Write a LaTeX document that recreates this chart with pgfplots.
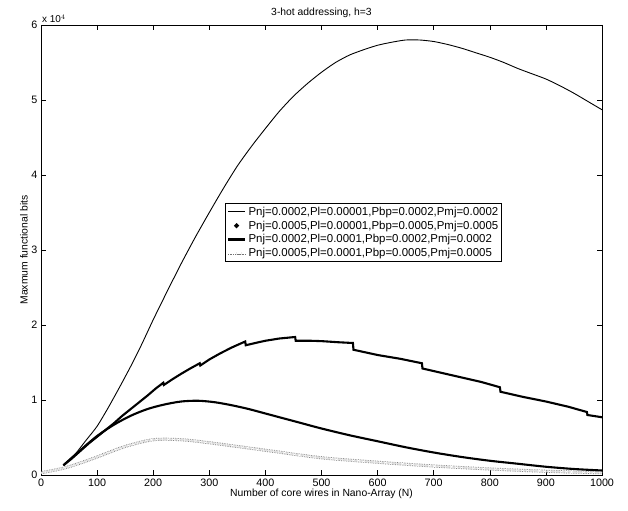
\documentclass[border=0pt]{standalone}
\usepackage{fontspec}
\setmainfont{Liberation Sans}
\usepackage{pgfplots}
\pgfplotsset{compat=1.18}

\begin{document}
\begin{tikzpicture}
\begin{axis}[
  name=ax,
  scale only axis,
  width=561bp, height=450bp,
  xmin=0, xmax=1000, ymin=0, ymax=60000,
  xtick={0,100,...,1000},
  ytick={0,10000,20000,30000,40000,50000,60000},
  yticklabels={0,1,2,3,4,5,6},
  scaled y ticks=false,
  /pgf/number format/assume math mode=true,
  /pgf/number format/1000 sep={},
  tick label style={font=\fontsize{10.8}{13}\selectfont},
  label style={font=\fontsize{10.4}{12}\selectfont},
  title style={font=\fontsize{10.4}{12}\selectfont, yshift=-2pt},
  title={3-hot addressing, h=3},
  xlabel={Number of core wires in Nano-Array (N)},
  ylabel={Maxmum functional bits},
  xlabel style={yshift=4pt},
  ylabel style={yshift=-3pt},
  major tick length=5pt,
  tick style={black, line width=0.5pt},
  axis line style={line width=0.9pt},
  legend style={at={(0.822,0.604)}, anchor=north east, draw=black,
                line width=0.7pt,
                fill=white, font=\fontsize{11.5}{13}\selectfont,
                inner sep=1.5pt, row sep=0pt},
  legend cell align=left,
]
% series 1
\addplot[black, line width=0.9pt, smooth, tension=0.4] coordinates {
  (40,1300) (60,2700) (80,4600) (100,6500) (120,9000) (140,11700)
  (160,14500) (180,17500) (200,20700) (225,24500) (250,28200)
  (275,31700) (300,35000) (325,38200) (350,41200) (375,43800)
  (400,46200) (425,48500) (450,50500) (475,52200) (500,53700)
  (525,55000) (550,56000) (575,56700) (600,57300) (625,57700)
  (650,58000) (675,58000) (700,57800) (725,57400) (750,56900)
  (775,56300) (800,55700) (825,55000) (850,54200) (875,53500)
  (900,52800) (925,51900) (950,50900) (975,49800) (1000,48700)
};
\addlegendentry{Pnj=0.0002,Pl=0.00001,Pbp=0.0002,Pmj=0.0002}
% series 2
\addplot[black, line width=2.1pt,
  legend image code/.code={\fill[black] (0.3cm,0) circle (1.2pt);}] coordinates {
  (40,1300) (55,2200) (70,3200) (85,4200) (100,5100) (115,6000)
  (130,6900) (145,7900) (160,8800) (175,9700) (190,10600) (204,11500)
  (218,12300) (219,12000) (235,12800) (250,13500) (266,14200)
  (283,14900) (284,14600) (300,15400) (319,16200) (340,17000)
  (364,17800) (365,17300) (382,17600) (400,17900) (425,18200)
  (453,18400) (454,17900) (480,17900) (500,17850) (530,17700)
  (556,17600) (557,16700) (600,16000) (640,15500) (679,14900)
  (680,14200) (715,13600) (750,13000) (785,12400) (818,11700)
  (819,11100) (860,10400) (900,9800) (940,9100) (973,8400)
  (974,8000) (1000,7700)
};
\addlegendentry{Pnj=0.0005,Pl=0.00001,Pbp=0.0005,Pmj=0.0005}
% series 3
\addplot[black, line width=2.1pt, smooth, tension=0.5] coordinates {
  (40,1300) (70,3300) (100,5200) (130,6700) (160,7900) (190,8800)
  (220,9400) (250,9800) (280,9900) (310,9700) (340,9300) (370,8800)
  (400,8200) (430,7600) (460,7000) (500,6200) (550,5300) (600,4500)
  (650,3700) (700,3000) (750,2400) (800,1900) (850,1500) (900,1100)
  (950,800) (1000,600)
};
\addlegendentry{Pnj=0.0002,Pl=0.0001,Pbp=0.0002,Pmj=0.0002}
% series 4
\addplot[black!55, line width=0.7pt, double=white, double distance=1.6pt,
  densely dotted, smooth, tension=0.5] coordinates {
  (0,300) (40,900) (70,1600) (100,2400) (150,3800) (200,4700)
  (250,4700) (300,4300) (400,3300) (500,2300) (600,1700) (700,1200)
  (800,800) (900,500) (1000,300)
};
\addlegendentry{Pnj=0.0005,Pl=0.0001,Pbp=0.0005,Pmj=0.0005}
\end{axis}
\node[anchor=south west, font=\fontsize{10}{12}\selectfont, inner sep=1pt]
  at ([yshift=1pt]ax.north west) {x 10$^4$};
\pgfresetboundingbox
\path[use as bounding box] ([shift={(-41bp,-36bp)}]ax.south west)
  rectangle ([shift={(26bp,25bp)}]ax.north east);
\end{tikzpicture}
\end{document}
